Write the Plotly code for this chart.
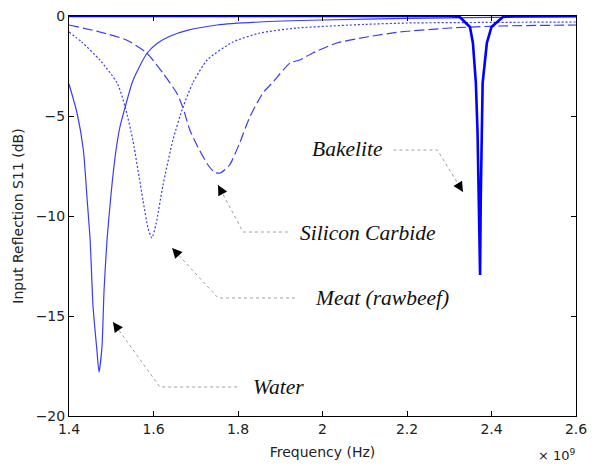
import plotly.graph_objects as go

# ---- data (frequency in GHz, axis shown with x10^9) ----
water_f = [1.400, 1.419, 1.434, 1.443, 1.450, 1.457, 1.466, 1.471, 1.478, 1.483, 1.490, 1.500,
           1.510, 1.520, 1.533, 1.550, 1.570, 1.585, 1.610, 1.640, 1.680, 1.750, 1.850,
           2.000, 2.200, 2.400, 2.600]
water_db = [-3.40, -4.85, -6.7, -9.2, -11.2, -14.55, -16.7, -17.8, -16.55, -13.7, -11.2, -8.8,
            -6.9, -5.6, -4.55, -3.3, -2.4, -1.85, -1.35, -1.0, -0.72, -0.45, -0.3,
            -0.2, -0.12, -0.07, -0.05]

meat_f = [1.400, 1.430, 1.473, 1.514, 1.533, 1.551, 1.575, 1.587, 1.596, 1.606, 1.622,
          1.646, 1.670, 1.693, 1.727, 1.788, 1.852, 1.940, 2.100, 2.200, 2.400, 2.600]
meat_db = [-0.8, -1.3, -2.2, -3.35, -4.55, -6.2, -9.2, -10.6, -11.1, -10.4, -8.5,
           -6.2, -4.55, -3.35, -2.2, -1.3, -0.85, -0.6, -0.42, -0.35, -0.32, -0.3]

sic_f = [1.400, 1.473, 1.536, 1.584, 1.622, 1.655, 1.670, 1.686, 1.705, 1.729, 1.745, 1.758,
         1.780, 1.804, 1.828, 1.859, 1.883, 1.923, 1.946, 1.977, 2.034, 2.105, 2.183,
         2.302, 2.420, 2.600]
sic_db = [-0.45, -0.8, -1.2, -1.85, -2.85, -3.85, -4.6, -5.7, -6.55, -7.45, -7.82, -7.85,
          -7.45, -6.35, -5.05, -3.85, -3.3, -2.35, -2.2, -1.85, -1.35, -1.05, -0.8,
          -0.6, -0.5, -0.45]

bake_f = [1.400, 2.300, 2.325, 2.349, 2.356, 2.363, 2.367, 2.370, 2.373, 2.3745,
          2.377, 2.379, 2.389, 2.400, 2.427, 2.450, 2.600]
bake_db = [0.0, 0.0, -0.05, -0.55, -1.35, -3.35, -5.85, -9.2, -12.95, -9.2,
           -5.85, -3.35, -1.35, -0.55, -0.05, 0.0, 0.0]

x_ticks = [1.4, 1.6, 1.8, 2.0, 2.2, 2.4, 2.6]
x_tick_labels = ["1.4", "1.6", "1.8", "2", "2.2", "2.4", "2.6"]
y_ticks = [0, -5, -10, -15, -20]

# annotation labels and their leader lines
labels = ["Bakelite", "Silicon Carbide", "Meat (rawbeef)", "Water"]
label_x = [2.058, 2.108, 2.141, 1.895]
label_y = [-6.65, -10.85, -14.1, -18.55]
tip_x = [2.3325, 1.7527, 1.644, 1.504]
tip_y = [-8.8, -8.45, -11.6, -15.3]
corner_x = [2.272, 1.812, 1.753, 1.615]
corner_y = [-6.7, -10.8, -14.1, -18.55]
end_x = [2.168, 1.918, 1.935, 1.798]

fig = go.Figure()
line_blue = "#3a3aff"
fig.add_trace(go.Scatter(x=water_f, y=water_db, mode="lines",
                         line=dict(color=line_blue, width=1.2, shape="spline", smoothing=0.6)))
fig.add_trace(go.Scatter(x=meat_f, y=meat_db, mode="lines",
                         line=dict(color=line_blue, width=1.2, dash="2px,2px",
                                   shape="spline", smoothing=0.6)))
fig.add_trace(go.Scatter(x=sic_f, y=sic_db, mode="lines",
                         line=dict(color=line_blue, width=1.2, dash="10px,4px",
                                   shape="spline", smoothing=0.6)))
fig.add_trace(go.Scatter(x=bake_f, y=bake_db, mode="lines",
                         line=dict(color="#0000ff", width=2.6)))

# leader lines
for i in range(len(labels)):
    fig.add_trace(go.Scatter(x=[end_x[i], corner_x[i], tip_x[i]],
                             y=[corner_y[i], corner_y[i], tip_y[i]],
                             mode="lines", line=dict(color="#a0a0a0", width=1, dash="dot"),
                             hoverinfo="skip"))

for i in range(len(labels)):
    fig.add_annotation(x=label_x[i], y=label_y[i], text="<i>" + labels[i] + "</i>",
                       showarrow=False,
                       font=dict(family="Liberation Serif", size=21.5, color="#111"),
                       xanchor="center", yanchor="middle")
    dxp = (corner_x[i] - tip_x[i]) * 422.5
    dyp = -(corner_y[i] - tip_y[i]) * 20.0
    n = (dxp ** 2 + dyp ** 2) ** 0.5
    fig.add_annotation(x=tip_x[i], y=tip_y[i], ax=dxp / n * 10, ay=dyp / n * 10,
                       text="", showarrow=True, arrowhead=2, arrowsize=2,
                       arrowwidth=1, arrowcolor="black", standoff=0)

fig.add_annotation(xref="paper", yref="paper", x=1.0, y=0, xanchor="right", yanchor="bottom",
                   yshift=-49, xshift=2, text="× 10<sup>9</sup>", showarrow=False,
                   font=dict(family="DejaVu Sans", size=13, color="#222"))

axis_font = dict(family="DejaVu Sans", size=14, color="#222")
fig.update_layout(
    width=594, height=466,
    margin=dict(l=69, r=18, t=16, b=50),
    plot_bgcolor="white", paper_bgcolor="white",
    showlegend=False,
    font=axis_font,
)
fig.update_xaxes(range=[1.4, 2.6], tickvals=x_ticks, ticktext=x_tick_labels,
                 showgrid=False, zeroline=False, showline=True, linecolor="black",
                 linewidth=1, mirror="ticks", ticks="inside", ticklen=5, tickcolor="black",
                 tickfont=axis_font, automargin=False,
                 title=dict(text="Frequency (Hz)", font=axis_font, standoff=11))
fig.update_yaxes(range=[-20, 0], tickvals=y_ticks, showgrid=False, zeroline=False,
                 showline=True, linecolor="black", linewidth=1, mirror="ticks",
                 ticks="inside", ticklen=5, tickcolor="black", tickfont=axis_font,
                 automargin=False,
                 title=dict(text="Input Reflection S11 (dB)", font=axis_font, standoff=8))

fig.write_html("out.html", config={"displayModeBar": False},
               post_script="document.body.style.margin='0';")
